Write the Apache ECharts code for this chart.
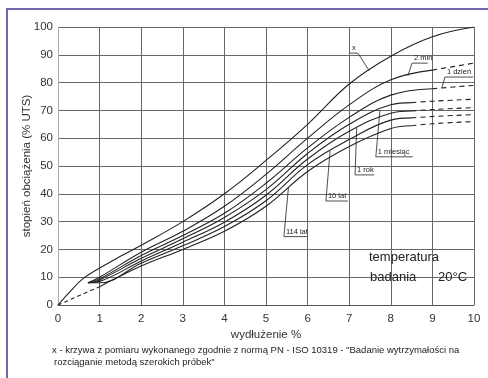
<!DOCTYPE html>
<html>
<head>
<meta charset="utf-8">
<script src="https://cdn.jsdelivr.net/npm/echarts@6/dist/echarts.min.js"></script>
<style>
html, body { margin: 0; padding: 0; background: #fff; }
#chart { width: 488px; height: 378px; }
</style>
</head>
<body>
<div id="chart"></div>
<script>
// values: [wydłużenie %, stopień obciążenia %]
const curveX = [[0,0],[0.3,5],[0.6,9.5],[1,13.3],[1.5,17.5],[2,21.5],[3,30],[4,40],[5,52],[6,65],[7,79.5],[8,89.5],[9,96.5],[10,100]];
const curve2min = [[0.72,8],[1,10],[2,19],[3,26.5],[4,35.5],[5,47],[6,60],[7,72],[8,81],[9,84.5],[10,87]];
const curve1dzien = [[0.72,8],[1,9.4],[2,17.8],[3,25],[4,33],[5,43.8],[6,56.5],[7,67.5],[8,75.5],[9,77.8],[10,79]];
const curve1miesiac = [[0.72,8],[1,9],[2,16.8],[3,23.8],[4,31.5],[5,41.5],[6,54.5],[7,65],[8,72],[8.5,72.8],[9,73.3],[10,74]];
const curve1rok = [[0.72,8],[1,8.5],[2,15.8],[3,22.6],[4,29.8],[5,39.5],[6,52.5],[7,62.5],[8,69],[8.5,69.8],[9,70.3],[10,71]];
const curve10lat = [[0.72,8],[1,8],[2,15],[3,21.3],[4,28.2],[5,37.5],[6,50.5],[7,59.5],[8,66.5],[8.5,67.3],[9,67.8],[10,68.5]];
const curve114lat = [[0,0],[1,6.6],[2,14],[3,20],[4,26.5],[5,35.5],[6,48],[7,57],[8,63.5],[8.5,64.5],[9,65.2],[10,66]];

const curves = [
    { name: 'x', data: curveX, dashTo: null, dashFrom: null },
    { name: '2 min', data: curve2min, dashTo: null, dashFrom: 9 },
    { name: '1 dzień', data: curve1dzien, dashTo: null, dashFrom: 9 },
    { name: '1 miesiąc', data: curve1miesiac, dashTo: null, dashFrom: 8.5 },
    { name: '1 rok', data: curve1rok, dashTo: null, dashFrom: 8.5 },
    { name: '10 lat', data: curve10lat, dashTo: null, dashFrom: 8.5 },
    { name: '114 lat', data: curve114lat, dashTo: 1, dashFrom: 8.5 }
];

// curve labels: underline from x0 to x1 at height y, leader to curve at tipX
const notes = [
    { curve: 0, text: 'x', x0: 7.02, x1: 7.21, y: 90.6, tipX: 7.48, side: 'right' },
    { curve: 1, text: '2 min', x0: 8.51, x1: 8.89, y: 87, tipX: 8.41, side: 'left' },
    { curve: 2, text: '1 dzień', x0: 9.3, x1: 9.98, y: 82, tipX: 9.23, side: 'left' },
    { curve: 3, text: '1 miesiąc', x0: 7.64, x1: 8.53, y: 53.3, tipX: 7.74, side: 'left' },
    { curve: 4, text: '1 rok', x0: 7.14, x1: 7.6, y: 46.8, tipX: 7.18, side: 'left' },
    { curve: 5, text: '10 lat', x0: 6.44, x1: 6.97, y: 37.4, tipX: 6.54, side: 'left' },
    { curve: 6, text: '114 lat', x0: 5.43, x1: 6.0, y: 24.6, tipX: 5.54, side: 'left' }
];

const footnote1 = 'x - krzywa z pomiaru wykonanego zgodnie z normą PN - ISO 10319 - "Badanie wytrzymałości na';
const footnote2 = 'rozciąganie metodą szerokich próbek"';

var chartDom = document.getElementById('chart');
var myChart = echarts.init(chartDom);
var option;

const lineColor = '#222';
const font = 'Liberation Sans, Arial, sans-serif';

let series = [];
curves.forEach(function (c) {
    const start = c.dashTo === null ? -Infinity : c.dashTo;
    const end = c.dashFrom === null ? Infinity : c.dashFrom;
    const parts = [
        { data: c.data.filter(p => p[0] >= start && p[0] <= end), type: 'solid' }
    ];
    if (c.dashTo !== null) parts.push({ data: c.data.filter(p => p[0] <= c.dashTo), type: [4, 3] });
    if (c.dashFrom !== null) parts.push({ data: c.data.filter(p => p[0] >= c.dashFrom), type: [5, 4] });
    parts.forEach(function (part) {
        series.push({
            name: c.name,
            type: 'line',
            data: part.data,
            smooth: 0.4,
            showSymbol: false,
            silent: true,
            lineStyle: { color: lineColor, width: 1.1, type: part.type }
        });
    });
});

option = {
    backgroundColor: '#fff',
    animation: false,
    grid: { left: 58, right: 14, top: 27, bottom: 73 },
    xAxis: {
        type: 'value',
        min: 0, max: 10, interval: 1,
        name: 'wydłużenie %',
        nameLocation: 'middle',
        nameGap: 24,
        nameMoveOverlap: false,
        nameTextStyle: { fontSize: 11.5, color: '#333', fontFamily: font },
        axisLine: { show: true, lineStyle: { color: '#555' } },
        axisTick: { show: false },
        axisLabel: { fontSize: 11.5, color: '#333', margin: 8, fontFamily: font },
        splitLine: { show: true, lineStyle: { color: '#666', width: 1 } }
    },
    yAxis: {
        type: 'value',
        min: 0, max: 100, interval: 10,
        name: 'stopień obciążenia (% UTS)',
        nameLocation: 'middle',
        nameGap: 25,
        nameMoveOverlap: false,
        nameTextStyle: { fontSize: 11.5, color: '#333', fontFamily: font },
        axisLine: { show: true, lineStyle: { color: '#aaa' } },
        axisTick: { show: false },
        axisLabel: { fontSize: 11.5, color: '#333', margin: 5, fontFamily: font },
        splitLine: { show: true, lineStyle: { color: '#666', width: 1 } }
    },
    series: series
};

option && myChart.setOption(option);

function curveAt(data, x) {
    for (let i = 1; i < data.length; i++) {
        if (x <= data[i][0]) {
            const a = data[i - 1], b = data[i];
            return a[1] + (b[1] - a[1]) * (x - a[0]) / (b[0] - a[0]);
        }
    }
    return data[data.length - 1][1];
}

function buildGraphics() {
    const els = [];
    notes.forEach(function (n, i) {
        const c = curves[n.curve];
        const p0 = myChart.convertToPixel({ gridIndex: 0 }, [n.x0, n.y]);
        const p1 = myChart.convertToPixel({ gridIndex: 0 }, [n.x1, n.y]);
        const tip = myChart.convertToPixel({ gridIndex: 0 }, [n.tipX, curveAt(c.data, n.tipX)]);
        const corner = n.side === 'left' ? p0 : p1;
        const other = n.side === 'left' ? p1 : p0;
        els.push({
            type: 'polyline',
            id: 'lead' + i,
            shape: { points: [tip, corner, other] },
            style: { stroke: lineColor, lineWidth: 0.8, fill: null }
        });
        els.push({
            type: 'text',
            id: 'note' + i,
            x: p0[0] + 2,
            y: p0[1] - 1,
            style: { text: n.text, font: '7.5px ' + font, fill: '#222', align: 'left', verticalAlign: 'bottom' }
        });
    });
    els.push({ type: 'text', id: 't1', x: 369, y: 257, style: { text: 'temperatura', font: '13px ' + font, fill: '#222', align: 'left', verticalAlign: 'middle' } });
    els.push({ type: 'text', id: 't2', x: 370, y: 277, style: { text: 'badania', font: '13px ' + font, fill: '#222', align: 'left', verticalAlign: 'middle' } });
    els.push({ type: 'text', id: 't3', x: 438, y: 277, style: { text: '20°C', font: '13px ' + font, fill: '#222', align: 'left', verticalAlign: 'middle' } });
    els.push({ type: 'text', id: 'f1', x: 52, y: 350, style: { text: footnote1, font: '9.5px ' + font, fill: '#222', align: 'left', verticalAlign: 'middle' } });
    els.push({ type: 'text', id: 'f2', x: 54, y: 362, style: { text: footnote2, font: '9.5px ' + font, fill: '#222', align: 'left', verticalAlign: 'middle' } });
    // frame of the scanned figure
    els.push({ type: 'polyline', id: 'frame', shape: { points: [[7, 378], [7, 9], [488, 9]] }, style: { stroke: '#6f68ad', lineWidth: 2, fill: null } });
    myChart.setOption({ graphic: els });
}

buildGraphics();

window.addEventListener('resize', function () {
    myChart.resize();
    buildGraphics();
});
</script>
</body>
</html>
